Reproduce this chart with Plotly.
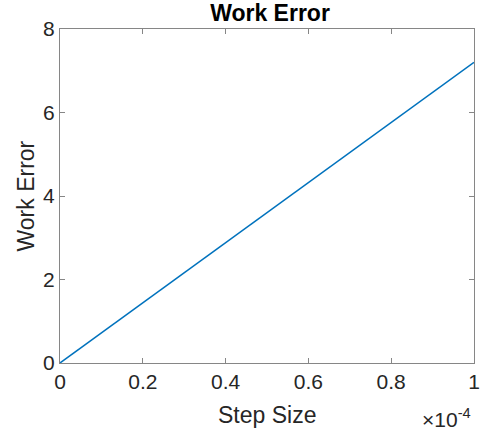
import plotly.graph_objects as go

step_size = [0.0, 1e-4]
work_error = [0.0, 7.2]
x_tick_vals = [0, 0.2e-4, 0.4e-4, 0.6e-4, 0.8e-4, 1e-4]
x_tick_text = ["0", "0.2", "0.4", "0.6", "0.8", "1"]
y_tick_vals = [0, 2, 4, 6, 8]

FONT = "Liberation Sans, Arial, Helvetica, sans-serif"
AX = "#868686"
TXT = "#262626"

L, R, T, B = 60, 8, 29, 71
PW, PH = 488 - L - R, 434 - T - B

fig = go.Figure()
fig.add_trace(go.Scatter(x=step_size, y=work_error, mode="lines",
                         line=dict(color="#0072BD", width=1.5), showlegend=False))

axis_common = dict(showgrid=False, zeroline=False, showline=True, linecolor=AX, linewidth=1,
                   mirror="ticks", ticks="inside", ticklen=5, tickcolor=AX, tickwidth=1,
                   tickfont=dict(family=FONT, size=21, color=TXT))

fig.update_xaxes(range=[0, 1e-4], tickvals=x_tick_vals, ticktext=x_tick_text, **axis_common)
fig.update_yaxes(range=[0, 8], tickvals=y_tick_vals, **axis_common)

fig.add_annotation(text="Step Size", xref="paper", yref="paper", x=0.5, y=(363 - 415) / PH,
                   xanchor="center", yanchor="middle", showarrow=False,
                   font=dict(family=FONT, size=23, color=TXT))
fig.add_annotation(text="Work Error", xref="paper", yref="paper", x=(25 - L) / PW, y=0.5,
                   xanchor="center", yanchor="middle", showarrow=False, textangle=-90,
                   font=dict(family=FONT, size=23, color=TXT))
fig.add_annotation(text="×10<sup>-4</sup>", xref="paper", yref="paper", x=(479 - L) / PW,
                   y=(363 - 418) / PH, xanchor="right", yanchor="middle", showarrow=False,
                   font=dict(family=FONT, size=21, color=TXT))

fig.update_layout(
    width=488, height=434,
    margin=dict(l=L, r=R, t=T, b=B),
    paper_bgcolor="white", plot_bgcolor="white",
    title=dict(text="<b>Work Error</b>", x=(270) / 488, xanchor="center", y=1 - 13 / 434,
               yanchor="middle", font=dict(family=FONT, size=23, color="black")),
)

fig.write_html("out.html")
